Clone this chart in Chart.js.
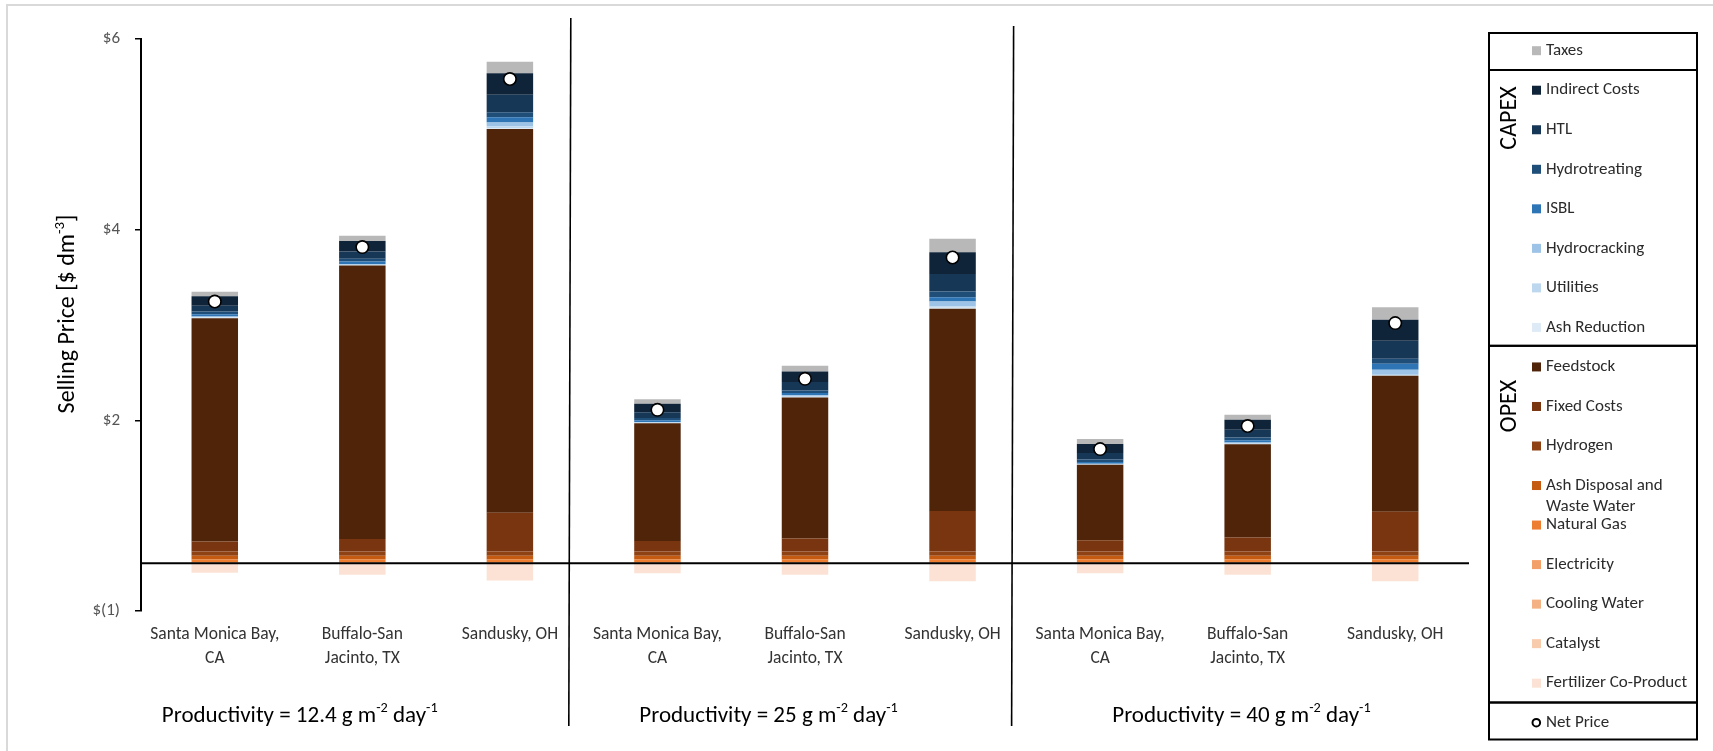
<!DOCTYPE html>
<html>
<head>
<meta charset="utf-8">
<script src="https://cdn.jsdelivr.net/npm/chart.js@4/dist/chart.umd.min.js"></script>
<style>
  html, body { margin: 0; padding: 0; background: #fff; }
  #wrap { width: 1713px; height: 751px; position: relative; }
</style>
</head>
<body>
<div id="wrap"><canvas id="c" width="1713" height="751"></canvas></div>
<script>
// ---- data ($ per dm^3) ----
const categories = [
  ['Santa Monica Bay,', 'CA'], ['Buffalo-San', 'Jacinto, TX'], ['Sandusky, OH'],
  ['Santa Monica Bay,', 'CA'], ['Buffalo-San', 'Jacinto, TX'], ['Sandusky, OH'],
  ['Santa Monica Bay,', 'CA'], ['Buffalo-San', 'Jacinto, TX'], ['Sandusky, OH']
];
const productivities = ['12.4', '25', '40'];
const yTickLabels = ['$(1)', '$2', '$4', '$6'];

// OPEX
const fertilizerCoProduct = [-0.100, -0.120, -0.180, -0.103, -0.120, -0.187, -0.103, -0.120, -0.187];
const catalyst      = [0.003, 0.003, 0.003, 0.003, 0.003, 0.003, 0.003, 0.003, 0.003];
const coolingWater  = [0.002, 0.002, 0.002, 0.002, 0.002, 0.002, 0.002, 0.002, 0.002];
const electricity   = [0.003, 0.003, 0.003, 0.003, 0.003, 0.003, 0.003, 0.003, 0.003];
const naturalGas    = [0.032, 0.032, 0.032, 0.032, 0.032, 0.032, 0.032, 0.032, 0.032];
const ashDisposal   = [0.040, 0.040, 0.040, 0.040, 0.040, 0.040, 0.040, 0.040, 0.040];
const hydrogen      = [0.045, 0.045, 0.045, 0.045, 0.045, 0.045, 0.045, 0.045, 0.045];
const fixedCosts    = [0.105, 0.130, 0.405, 0.110, 0.135, 0.425, 0.118, 0.145, 0.415];
const feedstock     = [2.342, 2.870, 4.025, 1.235, 1.479, 2.120, 0.790, 0.980, 1.427];
// CAPEX
const ashReduction  = [0.004, 0.003, 0.011, 0.002, 0.004, 0.010, 0.002, 0.003, 0.004];
const utilities     = [0.005, 0.005, 0.018, 0.004, 0.008, 0.014, 0.004, 0.005, 0.006];
const hydrocracking = [0.008, 0.008, 0.040, 0.006, 0.012, 0.052, 0.006, 0.009, 0.053];
const isbl          = [0.024, 0.025, 0.056, 0.018, 0.025, 0.046, 0.018, 0.025, 0.063];
const hydrotreating = [0.028, 0.030, 0.052, 0.025, 0.024, 0.059, 0.025, 0.028, 0.052];
const htl           = [0.060, 0.075, 0.182, 0.060, 0.090, 0.183, 0.070, 0.080, 0.189];
const indirectCosts = [0.100, 0.110, 0.227, 0.090, 0.110, 0.230, 0.095, 0.105, 0.220];
const taxes         = [0.048, 0.055, 0.120, 0.045, 0.060, 0.140, 0.050, 0.053, 0.133];
// net selling price
const netPrice      = [2.746, 3.317, 5.080, 1.610, 1.935, 3.208, 1.198, 1.440, 2.520];

const FONT = "Carlito, Lato, 'Liberation Sans', sans-serif";

// stacked from the bottom up
const series = [
  ['Fertilizer Co-Product', fertilizerCoProduct, '#fbe2d4'],
  ['Catalyst', catalyst, '#f8cbad'],
  ['Cooling Water', coolingWater, '#f4b183'],
  ['Electricity', electricity, '#f2a068'],
  ['Natural Gas', naturalGas, '#ed7d31'],
  ['Ash Disposal and Waste Water', ashDisposal, '#c55a11'],
  ['Hydrogen', hydrogen, '#8f4214'],
  ['Fixed Costs', fixedCosts, '#78350f'],
  ['Feedstock', feedstock, '#4f2409'],
  ['Ash Reduction', ashReduction, '#deebf7'],
  ['Utilities', utilities, '#bdd7ee'],
  ['Hydrocracking', hydrocracking, '#9dc3e6'],
  ['ISBL', isbl, '#2e75b6'],
  ['Hydrotreating', hydrotreating, '#1f4e79'],
  ['HTL', htl, '#173756'],
  ['Indirect Costs', indirectCosts, '#0f2339'],
  ['Taxes', taxes, '#b8b8b8']
];

const barSets = series.map(([label, data, color]) => ({
  type: 'bar', label, data, backgroundColor: color, borderWidth: 0,
  barPercentage: 0.315, categoryPercentage: 1.0, stack: 'cost'
}));
const netSet = {
  type: 'line', label: 'Net Price', data: netPrice, stack: 'net', order: -1,
  showLine: false, pointStyle: 'circle', pointRadius: 6.2,
  pointBackgroundColor: '#ffffff', pointBorderColor: '#000000', pointBorderWidth: 1.6
};

// group separators and captions, in category units
const dividerAt = [2.406, 5.407];
const groupCaptionAt = [0.576, 3.753, 6.958];

function drawRich(ctx, parts, x, y, size, color) {
  const sup = size * 0.62;
  let total = 0;
  parts.forEach(([t, s]) => { ctx.font = `${s ? sup : size}px ${FONT}`; total += ctx.measureText(t).width; });
  let cx = x - total / 2;
  ctx.fillStyle = color; ctx.textBaseline = 'middle'; ctx.textAlign = 'left';
  parts.forEach(([t, s]) => {
    ctx.font = `${s ? sup : size}px ${FONT}`;
    ctx.fillText(t, cx, s ? y - size * 0.32 : y);
    cx += ctx.measureText(t).width;
  });
}

function wrapText(ctx, text, maxW) {
  const words = text.split(' '); const lines = []; let cur = '';
  words.forEach(w => {
    const t = cur ? cur + ' ' + w : w;
    if (ctx.measureText(t).width > maxW && cur) { lines.push(cur); cur = w; } else cur = t;
  });
  lines.push(cur);
  return lines;
}

const decor = {
  id: 'decor',
  beforeDraw(chart) {
    const ctx = chart.ctx;
    ctx.save();
    ctx.fillStyle = '#fff'; ctx.fillRect(0, 0, chart.width, chart.height);
    ctx.strokeStyle = '#d9d9d9'; ctx.lineWidth = 2;
    ctx.strokeRect(7, 5, 1800, 900);
    ctx.restore();
  },
  afterDatasetsDraw(chart) {
    const { ctx, chartArea, scales } = chart;
    ctx.save();
    // zero line
    const y0 = scales.y.getPixelForValue(0);
    ctx.strokeStyle = '#000'; ctx.lineWidth = 2;
    ctx.beginPath(); ctx.moveTo(chartArea.left, y0); ctx.lineTo(chartArea.right, y0); ctx.stroke();
    ctx.restore();
  },
  afterDraw(chart) {
    const { ctx, chartArea, scales } = chart;
    ctx.save();
    // group separators
    ctx.strokeStyle = '#000'; ctx.lineWidth = 1.6;
    dividerAt.forEach((v, i) => {
      const x = scales.x.getPixelForValue(v);
      ctx.beginPath(); ctx.moveTo(x + 1, i === 0 ? 18 : 26); ctx.lineTo(x - 1, 726); ctx.stroke();
    });
    // group captions
    productivities.forEach((p, i) => {
      const x = scales.x.getPixelForValue(groupCaptionAt[i]);
      drawRich(ctx, [['Productivity = ' + p + ' g m', false], ['-2', true], [' day', false], ['-1', true]],
        x, 716, 23, '#000');
    });
    // y-axis title
    ctx.save();
    ctx.translate(68, (chartArea.top + chartArea.bottom) / 2 - 11);
    ctx.rotate(-Math.PI / 2);
    drawRich(ctx, [['Selling Price [$ dm', false], ['-3', true], [']', false]], 0, 0, 24, '#000');
    ctx.restore();

    // legend
    const L = 1489, R = 1697;
    const edges = [33, 70, 345.8, 702.5, 739.5];
    ctx.strokeStyle = '#000'; ctx.lineWidth = 2;
    for (let i = 0; i < edges.length - 1; i++) {
      ctx.strokeRect(L, edges[i], R - L, edges[i + 1] - edges[i]);
    }
    const entries = series.slice().reverse().map(([label, , color]) => ({ label, color }));
    entries.push({ label: 'Net Price', marker: true });
    const rowY = k => 50.7 + 39.53 * k;
    ctx.textBaseline = 'middle'; ctx.textAlign = 'left';
    entries.forEach((e, k) => {
      const y = rowY(k);
      if (e.marker) {
        ctx.beginPath(); ctx.arc(1536.3, y, 3.8, 0, Math.PI * 2);
        ctx.fillStyle = '#fff'; ctx.fill();
        ctx.lineWidth = 2; ctx.strokeStyle = '#000'; ctx.stroke();
      } else {
        ctx.fillStyle = e.color; ctx.fillRect(1532, y - 4.5, 9, 9);
      }
      ctx.font = `17px ${FONT}`; ctx.fillStyle = '#2b2b2b';
      const lines = wrapText(ctx, e.label, 146);
      lines.forEach((ln, j) => ctx.fillText(ln, 1546, y + j * 21));
    });
    // section titles
    ctx.font = `24px ${FONT}`; ctx.fillStyle = '#000'; ctx.textAlign = 'center';
    [['CAPEX', 118], ['OPEX', 406]].forEach(([t, yc]) => {
      ctx.save(); ctx.translate(1510, yc); ctx.rotate(-Math.PI / 2);
      ctx.fillText(t, 0, 0); ctx.restore();
    });
    ctx.restore();
  }
};

new Chart(document.getElementById('c').getContext('2d'), {
  type: 'bar',
  data: { labels: categories, datasets: [...barSets, netSet] },
  options: {
    responsive: false,
    animation: false,
    layout: { padding: { left: 0, right: 244, top: 39, bottom: 0 } },
    plugins: { legend: { display: false }, tooltip: { enabled: false } },
    scales: {
      x: {
        stacked: true,
        grid: { display: false, drawTicks: false },
        border: { display: false },
        ticks: { autoSkip: false, maxRotation: 0, padding: 12, color: '#333',
                 font: { family: FONT, size: 17.5, lineHeight: 1.35 } },
        afterFit: s => { s.height = 140; }
      },
      y: {
        stacked: true,
        min: -0.5, max: 5.5,
        ticks: { stepSize: 2, padding: 15, color: '#555', font: { family: FONT, size: 17 },
                 callback: (v, i) => yTickLabels[i] },
        grid: { drawOnChartArea: false, drawTicks: true, tickLength: 6, color: '#000', lineWidth: 1.5 },
        border: { color: '#000', width: 2 },
        afterFit: s => { s.width = 141; }
      }
    }
  },
  plugins: [decor]
});
</script>
</body>
</html>
